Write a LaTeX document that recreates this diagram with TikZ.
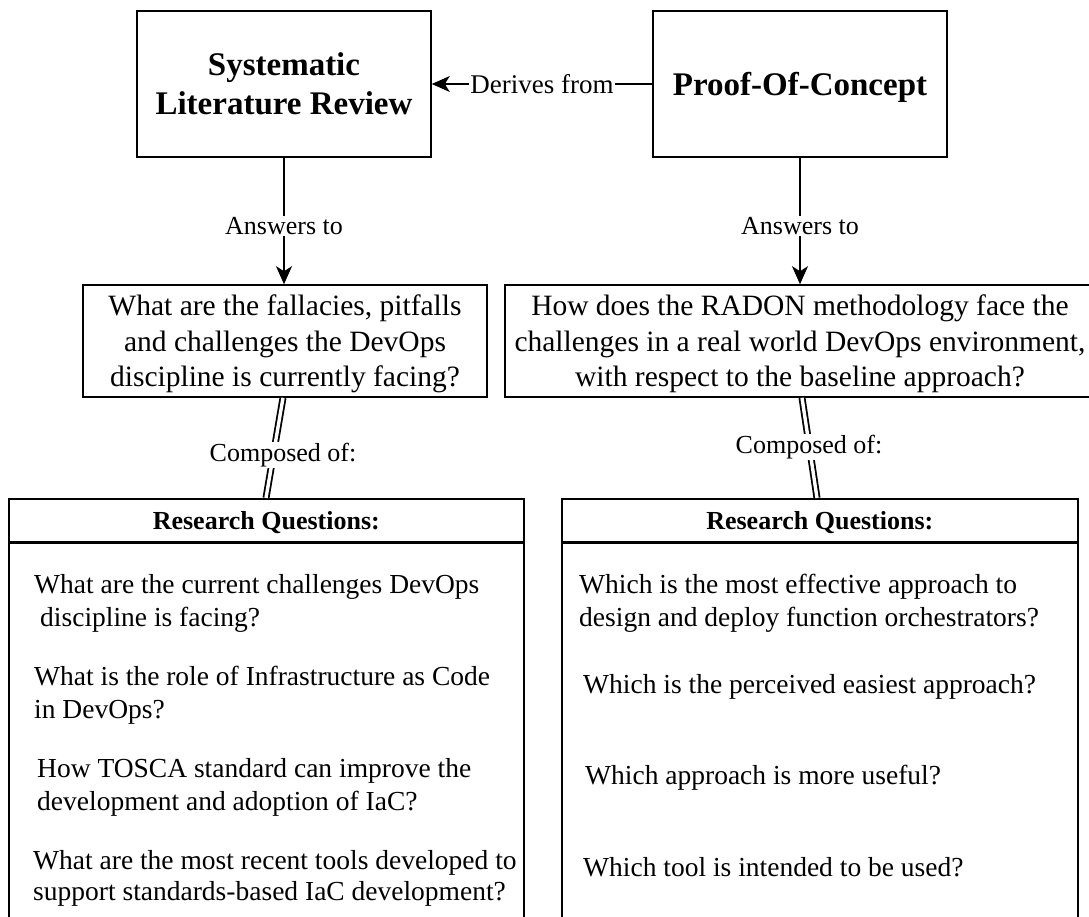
\documentclass[tikz,border=0pt]{standalone}
\usepackage{fontspec}
\setmainfont{Liberation Serif}
\usetikzlibrary{arrows.meta,calc}
\begin{document}
\begin{tikzpicture}[x=1pt,y=-1pt,
  box/.style={draw,line width=1.6pt,inner sep=0pt},
  title/.style={font=\fontsize{33}{39.5}\selectfont\bfseries,align=center},
  qtext/.style={font=\fontsize{29.5}{35.5}\selectfont,align=center},
  lbl/.style={fill=white,inner sep=1pt,font=\fontsize{26}{30}\selectfont},
  item/.style={anchor=base west,inner sep=0pt,font=\fontsize{27.5}{33}\selectfont},
  headtext/.style={font=\fontsize{26}{30}\selectfont\bfseries},
  conn/.style={line width=1.6pt},
  arr/.style={conn,-{Stealth[length=18pt,width=16pt,inset=5pt]}},
  dbl/.style={line width=1.8pt,double distance=3.4pt}]
\clip (0,0) rectangle (1089,917);
\fill[white] (0,0) rectangle (1089,917);

% top-level activities
\node[box,title,minimum width=294pt,minimum height=146pt] (slr) at (284,84) {Systematic\\Literature Review};
\node[box,minimum width=294pt,minimum height=146pt] (poc) at (800,84) {};
\node[title] (poct) at ($(poc.center)+(0,3)$) {Proof-Of-Concept};

% main questions (boxes, then their centred text)
\node[box,minimum width=404pt,minimum height=112pt] (q1) at (285,341) {};
\node[qtext] (q1t) at ($(q1.center)+(0,3)$)
  {What are the fallacies, pitfalls\\and challenges the DevOps\\discipline is currently facing?};
\node[box,minimum width=590pt,minimum height=112pt] (q2) at (800,341) {};
\node[qtext] (q2t) at ($(q2.center)+(0,3)$)
  {How does the RADON methodology face the\\challenges in a real world DevOps environment,\\with respect to the baseline approach?};

% research question tables
\node[box,minimum width=515pt,minimum height=43pt,anchor=north west] (rq1h) at (8,498) {};
\node[headtext] (rq1t) at ($(rq1h.center)+(0,2)$) {Research Questions:};
\node[box,minimum width=515pt,minimum height=430pt,anchor=north west] (rq1b) at (rq1h.south west) {};
\node[box,minimum width=516pt,minimum height=43pt,anchor=north west] (rq2h) at (561,498) {};
\node[headtext] (rq2t) at ($(rq2h.center)+(0,2)$) {Research Questions:};
\node[box,minimum width=516pt,minimum height=430pt,anchor=north west] (rq2b) at (rq2h.south west) {};

% connectors
\draw[arr] (poc) -- node[lbl,font=\fontsize{27}{31}\selectfont] (der) {Derives from} (slr);
\draw[arr] (slr.south) -- node[lbl,pos=0.54] (ans1) {Answers to} (slr.south |- q1.north);
\draw[arr] (poc.south) -- node[lbl,pos=0.54] (ans2) {Answers to} (poc.south |- q2.north);

\coordinate (d1a) at ($(q1.south)+(-2,0)$);
\coordinate (d1b) at ($(rq1h.north west)+(258,0)$);
\draw[dbl] (d1a) -- (d1b);
\node[lbl] (comp1) at (283,455) {Composed of:};

\coordinate (d2a) at ($(q2.south)+(2,0)$);
\coordinate (d2b) at ($(rq2h.north west)+(256,0)$);
\draw[dbl] (d2a) -- (d2b);
\node[lbl] (comp2) at (809,447) {Composed of:};

% left research questions
\node[item] (l1a) at (34,593) {What are the current challenges DevOps};
\node[item] (l1b) at (40,626) {discipline is facing?};
\node[item] (l2a) at (34,685) {What is the role of Infrastructure as Code};
\node[item] (l2b) at (34,718) {in DevOps?};
\node[item] (l3a) at (37,777) {How TOSCA standard can improve the};
\node[item] (l3b) at (37,810) {development and adoption of IaC?};
\node[item] (l4a) at (33,869) {What are the most recent tools developed to};
\node[item] (l4b) at (33,900) {support standards-based IaC development?};

% right research questions
\node[item] (r1a) at (579,593) {Which is the most effective approach to};
\node[item] (r1b) at (579,626) {design and deploy function orchestrators?};
\node[item] (r2) at (583,693) {Which is the perceived easiest approach?};
\node[item] (r3) at (585,784) {Which approach is more useful?};
\node[item] (r4) at (583,876) {Which tool is intended to be used?};
\end{tikzpicture}
\end{document}
